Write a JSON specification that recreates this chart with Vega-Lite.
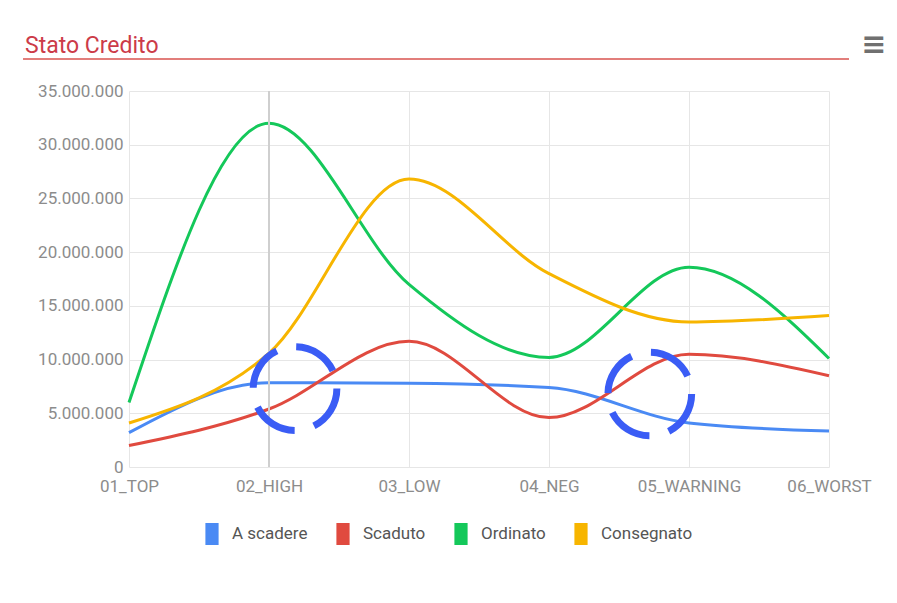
{
  "$schema": "https://vega.github.io/schema/vega-lite/v6.json",
  "padding": {"left": 22, "top": 30, "right": 8, "bottom": 0},
  "background": "white",
  "config": {
    "locale": {"number": {"decimal": ",", "thousands": ".", "grouping": [3], "currency": ["€", ""]}},
    "font": "Roboto",
    "view": {"stroke": null},
    "concat": {"spacing": 22}
  },
  "vconcat": [
    {
      "width": 700,
      "height": 28,
      "data": {"values": [{"label": "Stato Credito", "start": -0.1514, "textPos": -0.1486, "end": 1.0286, "menu": "≡", "menuPos": 1.064}]},
      "layer": [
        {
          "mark": {"type": "rule", "color": "#d9534f", "strokeWidth": 1.5},
          "encoding": {
            "x": {"field": "start", "type": "quantitative", "scale": {"domain": [0, 1], "nice": false, "zero": false}, "axis": null},
            "x2": {"field": "end"},
            "y": {"datum": 0, "type": "quantitative", "scale": {"domain": [0, 1]}, "axis": null}
          }
        },
        {
          "mark": {"type": "text", "align": "left", "baseline": "alphabetic", "fontSize": 23, "color": "#cc3b48", "font": "Roboto"},
          "encoding": {
            "x": {"field": "textPos", "type": "quantitative"},
            "y": {"datum": 0.2, "type": "quantitative"},
            "text": {"field": "label"}
          }
        },
        {
          "mark": {"type": "text", "align": "center", "baseline": "middle", "fontSize": 30, "fontWeight": "bold", "color": "#707070", "font": "DejaVu Sans"},
          "encoding": {
            "x": {"field": "menuPos", "type": "quantitative"},
            "y": {"datum": 0.5, "type": "quantitative"},
            "text": {"field": "menu"}
          }
        }
      ]
    },
    {
      "width": 700,
      "height": 376,
      "layer": [
        {
          "data": {"values": [
            {"categoria": "01_TOP", "serie": "A scadere", "valore": 3200000},
            {"categoria": "02_HIGH", "serie": "A scadere", "valore": 7850000},
            {"categoria": "03_LOW", "serie": "A scadere", "valore": 7800000},
            {"categoria": "04_NEG", "serie": "A scadere", "valore": 7400000},
            {"categoria": "05_WARNING", "serie": "A scadere", "valore": 4100000},
            {"categoria": "06_WORST", "serie": "A scadere", "valore": 3350000},
            {"categoria": "01_TOP", "serie": "Scaduto", "valore": 2000000},
            {"categoria": "02_HIGH", "serie": "Scaduto", "valore": 5400000},
            {"categoria": "03_LOW", "serie": "Scaduto", "valore": 11700000},
            {"categoria": "04_NEG", "serie": "Scaduto", "valore": 4600000},
            {"categoria": "05_WARNING", "serie": "Scaduto", "valore": 10500000},
            {"categoria": "06_WORST", "serie": "Scaduto", "valore": 8500000},
            {"categoria": "01_TOP", "serie": "Ordinato", "valore": 6000000},
            {"categoria": "02_HIGH", "serie": "Ordinato", "valore": 32000000},
            {"categoria": "03_LOW", "serie": "Ordinato", "valore": 17000000},
            {"categoria": "04_NEG", "serie": "Ordinato", "valore": 10200000},
            {"categoria": "05_WARNING", "serie": "Ordinato", "valore": 18600000},
            {"categoria": "06_WORST", "serie": "Ordinato", "valore": 10100000},
            {"categoria": "01_TOP", "serie": "Consegnato", "valore": 4100000},
            {"categoria": "02_HIGH", "serie": "Consegnato", "valore": 10600000},
            {"categoria": "03_LOW", "serie": "Consegnato", "valore": 26800000},
            {"categoria": "04_NEG", "serie": "Consegnato", "valore": 18000000},
            {"categoria": "05_WARNING", "serie": "Consegnato", "valore": 13500000},
            {"categoria": "06_WORST", "serie": "Consegnato", "valore": 14100000}
          ]},
          "layer": [
            {
              "mark": {"type": "line", "interpolate": "monotone", "strokeWidth": 3},
              "encoding": {
                "x": {
                  "field": "categoria", "type": "nominal",
                  "scale": {"type": "point", "padding": 0},
                  "axis": {"title": null, "domain": false, "ticks": false, "grid": true, "gridColor": "#e6e6e6", "labelAngle": 0, "labelFont": "Roboto", "labelFontSize": 17, "labelColor": "#8c8c8c", "labelPadding": 11, "labelOverlap": false}
                },
                "y": {
                  "field": "valore", "type": "quantitative",
                  "scale": {"domain": [0, 35000000], "nice": false},
                  "axis": {"title": null, "values": [0, 5000000, 10000000, 15000000, 20000000, 25000000, 30000000, 35000000], "format": ",d", "domain": false, "ticks": false, "gridColor": "#e6e6e6", "labelFont": "Roboto", "labelFontSize": 17, "labelColor": "#8c8c8c", "labelPadding": 6}
                },
                "color": {
                  "field": "serie", "type": "nominal",
                  "scale": {"domain": ["A scadere", "Scaduto", "Ordinato", "Consegnato"], "range": ["#4a8af4", "#e04a3f", "#14c85a", "#f7b500"]},
                  "legend": {
                    "title": null, "orient": "none", "direction": "horizontal", "legendX": 72, "legendY": 492,
                    "symbolType": "M-0.6,-1L0.6,-1L0.6,1L-0.6,1Z", "symbolSize": 484, "symbolStrokeWidth": 0,
                    "labelFont": "Roboto", "labelFontSize": 17, "labelColor": "#555555", "labelOffset": 9, "columnPadding": 24, "padding": 0,
                    "encode": {"symbols": {"update": {"fill": {"scale": "color", "field": "value"}, "fillOpacity": {"value": 1}, "opacity": {"value": 1}}}}
                  }
                },
                "order": {"field": "serie"}
              }
            },
            {
              "mark": {"type": "rule", "color": "#cfcfcf", "strokeWidth": 1.5},
              "encoding": {"x": {"datum": "02_HIGH", "type": "nominal"}}
            }
          ]
        },
        {
          "data": {"values": [{"cx": 1.186, "cy": 7300000}, {"cx": 3.72, "cy": 6800000}]},
          "mark": {"type": "point", "shape": "circle", "filled": false, "size": 7000, "stroke": "#3a5cf5", "strokeWidth": 7, "strokeDash": [46, 20], "opacity": 1},
          "encoding": {
            "x": {"field": "cx", "type": "quantitative", "scale": {"domain": [0, 5], "nice": false, "zero": false}, "axis": null},
            "y": {"field": "cy", "type": "quantitative"}
          }
        }
      ],
      "resolve": {"scale": {"x": "independent"}}
    }
  ]
}
